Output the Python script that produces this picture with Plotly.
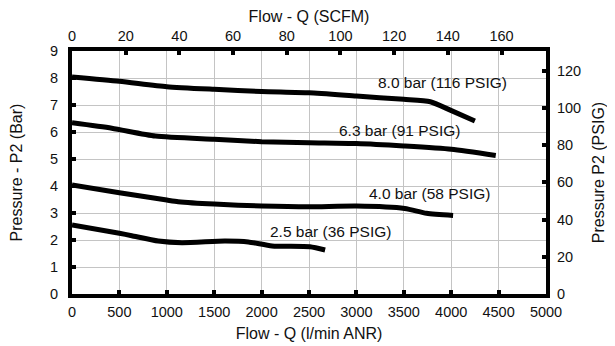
import plotly.graph_objects as go

# Data (flow in l/min ANR, pressure in bar)
flow_80 = [0, 500, 1000, 1500, 2000, 2500, 3000, 3500, 3780, 3990, 4250]
p2_80 = [8.04, 7.88, 7.68, 7.58, 7.50, 7.45, 7.33, 7.21, 7.12, 6.81, 6.41]

flow_63 = [0, 420, 880, 1500, 2000, 2500, 3000, 3500, 4000, 4470]
p2_63 = [6.34, 6.14, 5.85, 5.73, 5.64, 5.60, 5.57, 5.48, 5.36, 5.13]

flow_40 = [0, 500, 1000, 1120, 1500, 2000, 2500, 3000, 3510, 3740, 4020]
p2_40 = [4.04, 3.75, 3.48, 3.42, 3.33, 3.26, 3.23, 3.26, 3.17, 2.99, 2.91]

flow_25 = [0, 500, 630, 910, 1160, 1610, 1860, 2110, 2510, 2670]
p2_25 = [2.56, 2.25, 2.16, 1.96, 1.90, 1.96, 1.93, 1.78, 1.75, 1.63]

labels = ["8.0 bar (116 PSIG)", "6.3 bar (91 PSIG)", "4.0 bar (58 PSIG)", "2.5 bar (36 PSIG)"]
label_x = [3913, 3455, 3773, 2725]
label_y = [7.85, 6.07, 3.73, 2.33]

x_ticks = [0, 500, 1000, 1500, 2000, 2500, 3000, 3500, 4000, 4500, 5000]
scfm_ticks = [0, 20, 40, 60, 80, 100, 120, 140, 160]
bar_ticks = [0, 1, 2, 3, 4, 5, 6, 7, 8, 9]
psig_ticks = [0, 20, 40, 60, 80, 100, 120]

LPM_PER_SCFM = 28.317
PSI_PER_BAR = 14.5038
X_MAX = 5000
Y_MAX = 9

FONT = "Liberation Sans, Arial, Helvetica, sans-serif"
TICK_SIZE = 14.5
TITLE_SIZE = 16
LABEL_SIZE = 15.5

fig = go.Figure()
for fx, fy in [(flow_80, p2_80), (flow_63, p2_63), (flow_40, p2_40), (flow_25, p2_25)]:
    fig.add_trace(go.Scatter(x=fx, y=fy, mode="lines",
                             line=dict(color="black", width=5, shape="spline", smoothing=0.6),
                             showlegend=False, hoverinfo="skip"))

# invisible traces to activate secondary axes
fig.add_trace(go.Scatter(x=[0], y=[0], xaxis="x2", yaxis="y", mode="markers",
                         marker=dict(opacity=0), showlegend=False, hoverinfo="skip"))
fig.add_trace(go.Scatter(x=[0], y=[0], xaxis="x", yaxis="y2", mode="markers",
                         marker=dict(opacity=0), showlegend=False, hoverinfo="skip"))

for t, lx, ly in zip(labels, label_x, label_y):
    fig.add_annotation(x=lx, y=ly, text=t, showarrow=False,
                       font=dict(family=FONT, size=LABEL_SIZE, color="#111"))

axis_common = dict(showline=True, linecolor="black", linewidth=4,
                   ticks="inside", ticklen=4, tickwidth=4, tickcolor="black",
                   tickfont=dict(family=FONT, size=TICK_SIZE, color="#111"),
                   zeroline=False, automargin=False)

fig.update_layout(
    width=607, height=338,
    margin=dict(l=64, r=69, t=43, b=52),
    plot_bgcolor="white", paper_bgcolor="white",
    font=dict(family=FONT, size=TICK_SIZE, color="#111"),
    xaxis=dict(range=[0, X_MAX], tickvals=x_ticks,
               showgrid=True, gridcolor="#c4c4c4", gridwidth=1,
               ticklabelstandoff=2,
               title=dict(text="Flow - Q (l/min ANR)", standoff=9,
                          font=dict(family=FONT, size=TITLE_SIZE)),
               **axis_common),
    xaxis2=dict(range=[0, X_MAX / LPM_PER_SCFM], tickvals=scfm_ticks,
                overlaying="x", side="top", showgrid=False,
                ticklabelstandoff=0,
                title=dict(text="Flow - Q (SCFM)", standoff=10,
                           font=dict(family=FONT, size=TITLE_SIZE)),
                **axis_common),
    yaxis=dict(range=[0, Y_MAX], tickvals=bar_ticks,
               showgrid=True, gridcolor="#c4c4c4", gridwidth=1,
               ticklabelstandoff=7,
               title=dict(text="Pressure - P2 (Bar)", standoff=24,
                          font=dict(family=FONT, size=TITLE_SIZE)),
               **axis_common),
    yaxis2=dict(range=[0, Y_MAX * PSI_PER_BAR], tickvals=psig_ticks,
                overlaying="y", side="right", showgrid=False,
                ticklabelstandoff=4,
                title=dict(text="Pressure P2 (PSIG)", standoff=14,
                           font=dict(family=FONT, size=TITLE_SIZE)),
                **axis_common),
)

fig.write_html("out.html")
